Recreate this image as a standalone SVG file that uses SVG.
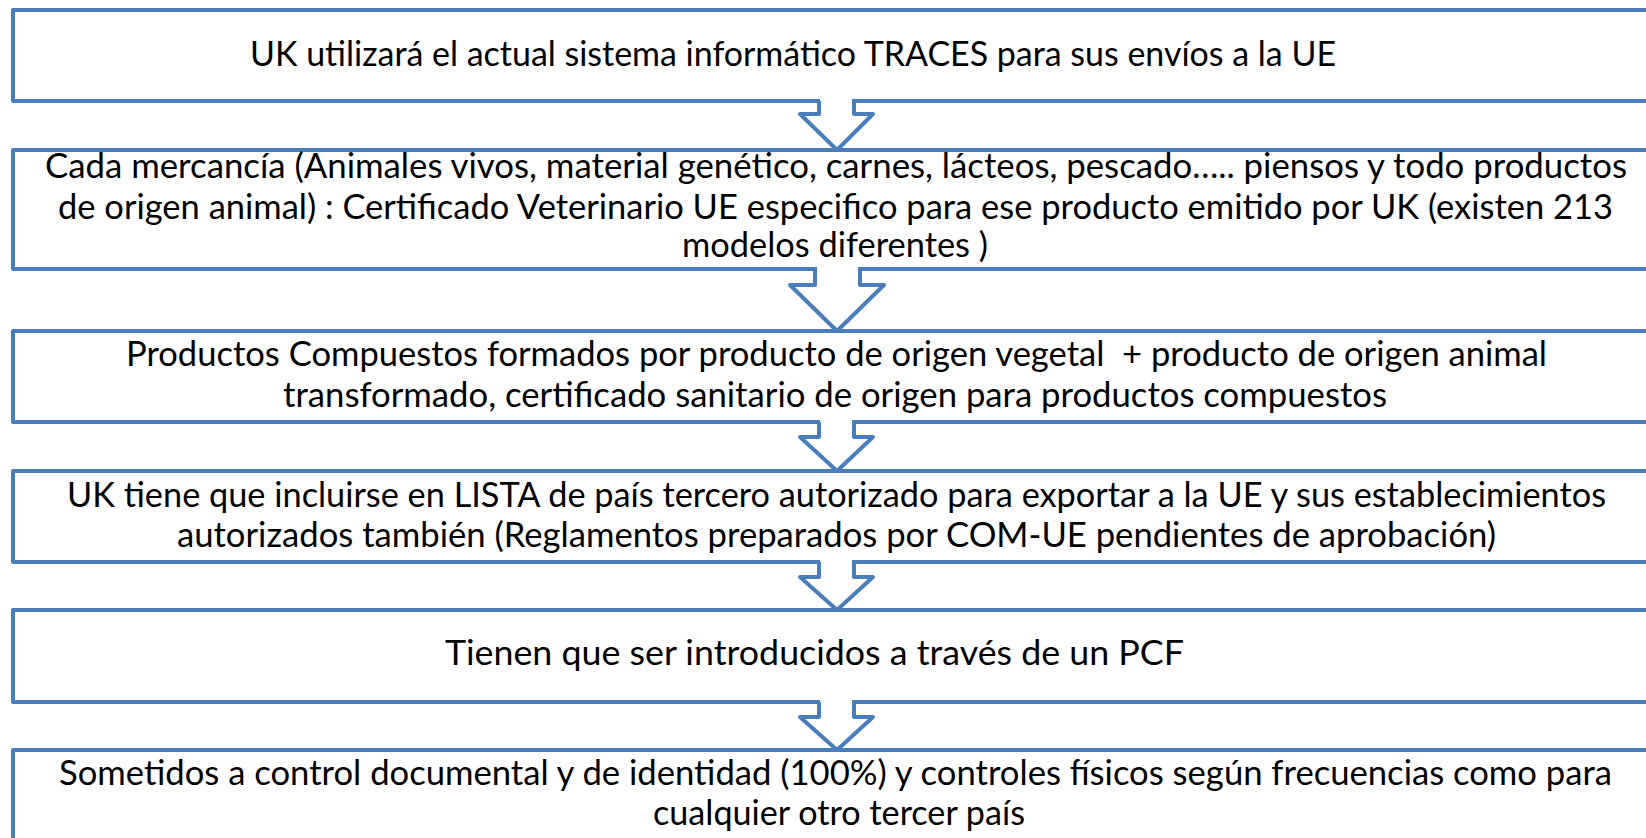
<svg xmlns="http://www.w3.org/2000/svg" width="1646" height="838" viewBox="0 0 1646 838">
<style>
.box{fill:#ffffff;stroke:#4A7EBB;stroke-width:4;stroke-linejoin:round}
.arf{fill:#ffffff;stroke:none}
.aro{fill:none;stroke:#4A7EBB;stroke-width:4;stroke-linejoin:round;stroke-linecap:butt}
.t{font-family:Lato,"Liberation Sans",sans-serif;font-size:34px;fill:#000000}
</style>
<rect width="1646" height="838" fill="#ffffff"/>
<g id="node1"><rect class="box" x="13" y="10" width="1650" height="91"/>
<text class="t" x="250" y="66" textLength="1086" lengthAdjust="spacingAndGlyphs">UK utilizará el actual sistema informático TRACES para sus envíos a la UE</text></g>
<g id="node2"><rect class="box" x="13" y="150" width="1650" height="119"/>
<text class="t" x="45" y="178" textLength="1582" lengthAdjust="spacingAndGlyphs">Cada mercancía (Animales vivos, material genético, carnes, lácteos, pescado….. piensos y todo productos</text>
<text class="t" x="58" y="219" textLength="1555" lengthAdjust="spacingAndGlyphs">de origen animal) : Certificado Veterinario UE especifico para ese producto emitido por UK (existen 213</text>
<text class="t" x="682" y="257" textLength="306" lengthAdjust="spacingAndGlyphs">modelos diferentes )</text></g>
<g id="node3"><rect class="box" x="13" y="331" width="1650" height="91"/>
<text class="t" x="126" y="366" textLength="1421" lengthAdjust="spacingAndGlyphs" xml:space="preserve">Productos Compuestos formados por producto de origen vegetal  + producto de origen animal</text>
<text class="t" x="283" y="407" textLength="1104" lengthAdjust="spacingAndGlyphs">transformado, certificado sanitario de origen para productos compuestos</text></g>
<g id="node4"><rect class="box" x="13" y="471" width="1650" height="91"/>
<text class="t" x="67" y="507" textLength="1539" lengthAdjust="spacingAndGlyphs">UK tiene que incluirse en LISTA de país tercero autorizado para exportar a la UE y sus establecimientos</text>
<text class="t" x="177" y="547" textLength="1319" lengthAdjust="spacingAndGlyphs">autorizados también (Reglamentos preparados por COM-UE pendientes de aprobación)</text></g>
<g id="node5"><rect class="box" x="13" y="610" width="1650" height="92"/>
<text class="t" x="445" y="665" textLength="739" lengthAdjust="spacingAndGlyphs">Tienen que ser introducidos a través de un PCF</text></g>
<g id="node6"><rect class="box" x="13" y="750" width="1650" height="120"/>
<text class="t" x="59" y="785" textLength="1553" lengthAdjust="spacingAndGlyphs">Sometidos a control documental y de identidad (100%) y controles físicos según frecuencias como para</text>
<text class="t" x="653" y="825" textLength="372" lengthAdjust="spacingAndGlyphs">cualquier otro tercer país</text></g>
<g id="connectors">
<g id="arrow1"><path class="arf" d="M820 97 L852 97 L852 114 L873 114 L837 150 L800 114 L820 114 Z"/>
<path class="aro" d="M819 101 L819 114 L800 114 L837 150 L873 114 L854 114 L854 101"/></g>
<g id="arrow2"><path class="arf" d="M817 265 L858 265 L858 285 L884 285 L837 331 L790 285 L817 285 Z"/>
<path class="aro" d="M815 269 L815 285 L790 285 L837 331 L884 285 L860 285 L860 269"/></g>
<g id="arrow3"><path class="arf" d="M820 418 L852 418 L852 437 L873 437 L837 471 L800 437 L820 437 Z"/>
<path class="aro" d="M819 422 L819 437 L800 437 L837 471 L873 437 L854 437 L854 422"/></g>
<g id="arrow4"><path class="arf" d="M820 558 L852 558 L852 577 L873 577 L837 610 L800 577 L820 577 Z"/>
<path class="aro" d="M819 562 L819 577 L800 577 L837 610 L873 577 L854 577 L854 562"/></g>
<g id="arrow5"><path class="arf" d="M820 698 L852 698 L852 717 L873 717 L837 750 L800 717 L820 717 Z"/>
<path class="aro" d="M819 702 L819 717 L800 717 L837 750 L873 717 L854 717 L854 702"/></g>
</g>
</svg>
